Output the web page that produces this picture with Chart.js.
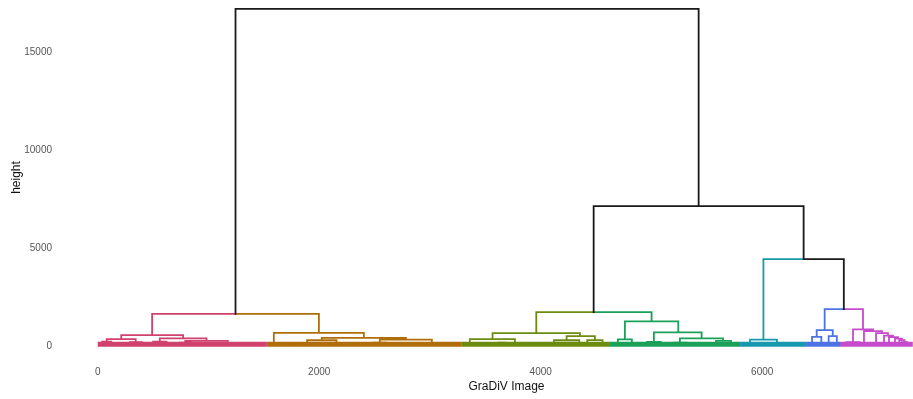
<!DOCTYPE html>
<html>
<head>
<meta charset="utf-8">
<title>GraDiV Image dendrogram</title>
<script src="https://cdn.jsdelivr.net/npm/chart.js@4/dist/chart.umd.min.js"></script>
<style>
  html, body { margin: 0; padding: 0; background: #fff; overflow: hidden; }
  /* the reference is a crop of a wider ggplot panel, so the canvas runs past the window */
  #wrap { position: absolute; left: 0; top: -8px; width: 956px; height: 407px; }
</style>
</head>
<body>
<div id="wrap"><canvas id="dendro"></canvas></div>
<script>
// Clusters along the leaf axis
const clusterNames = ['pink', 'brown', 'olive', 'green', 'cyan', 'blue', 'magenta'];
const clusterColors = ['#D0416E', '#B06E0A', '#6C8C10', '#1AA058', '#1898AC', '#4B73E3', '#C64BCB'];
const clusterStart = [0, 1527, 3288, 4625, 5800, 6396, 6703];
const clusterEnd = [1527, 3288, 4625, 5800, 6396, 6703, 7360];
const leafBandHeight = 100;

// Merges inside a cluster: [left x, right x, height, left child height, right child height]
const pinkMerges = [
  [212, 771, 561, 357, 393],
  [81, 343, 357, 230, 200],
  [560, 982, 393, 230, 270],
  [790, 1174, 270, 180, 170],
  [40, 122, 230, 100, 100],
  [290, 396, 200, 100, 100],
  [500, 620, 230, 100, 100],
  [740, 840, 180, 100, 100],
  [1110, 1238, 170, 100, 100],
  [1300, 1420, 150, 100, 100],
  [160, 240, 170, 100, 100],
  [430, 480, 160, 100, 100],
  [900, 1010, 150, 100, 100],
  [1440, 1500, 140, 100, 100]
];
const brownMerges = [
  [1590, 2403, 680, 170, 423],
  [2023, 2782, 423, 300, 330],
  [1890, 2156, 300, 150, 130],
  [2547, 3017, 330, 180, 160],
  [1540, 1640, 170, 100, 100],
  [1850, 1930, 150, 100, 100],
  [2110, 2202, 130, 100, 100],
  [2490, 2604, 180, 100, 100],
  [2960, 3074, 160, 100, 100],
  [2280, 2360, 160, 100, 100],
  [1700, 1790, 150, 100, 100],
  [2660, 2740, 150, 100, 100],
  [2840, 2920, 140, 100, 100],
  [3120, 3220, 140, 100, 100]
];
const oliveMerges = [
  [3565, 4354, 663, 357, 510],
  [3360, 3767, 357, 170, 150],
  [4234, 4489, 510, 300, 306],
  [4120, 4348, 300, 140, 120],
  [4420, 4558, 306, 120, 110],
  [3310, 3410, 170, 100, 100],
  [3700, 3834, 150, 100, 100],
  [4060, 4180, 140, 100, 100],
  [3480, 3600, 160, 100, 100],
  [3900, 3990, 140, 100, 100],
  [3620, 3680, 180, 100, 100],
  [4000, 4050, 160, 100, 100],
  [4570, 4610, 130, 100, 100]
];
const greenMerges = [
  [4760, 5242, 1260, 342, 699],
  [4697, 4823, 342, 120, 130],
  [5022, 5453, 699, 220, 393],
  [5257, 5646, 393, 180, 270],
  [5583, 5718, 270, 120, 110],
  [4960, 5084, 220, 100, 100],
  [5200, 5314, 180, 100, 100],
  [4650, 4744, 120, 100, 100],
  [5400, 5480, 160, 100, 100],
  [4870, 4930, 150, 100, 100],
  [5500, 5560, 150, 100, 100],
  [5740, 5790, 130, 100, 100]
];
const cyanMerges = [
  [5890, 6133, 330, 160, 170],
  [5840, 5940, 160, 100, 100],
  [6080, 6186, 170, 100, 100],
  [6250, 6340, 150, 100, 100],
  [5980, 6040, 140, 100, 100]
];
const blueMerges = [
  [6492, 6637, 816, 475, 510],
  [6450, 6534, 475, 150, 150],
  [6600, 6674, 510, 150, 150],
  [6420, 6480, 150, 100, 100],
  [6510, 6558, 150, 100, 100],
  [6580, 6620, 150, 100, 100],
  [6650, 6698, 150, 100, 100]
];
const magentaMerges = [
  [6820, 7001, 850, 200, 765],
  [6760, 6880, 200, 100, 100],
  [6919, 7082, 765, 150, 663],
  [6890, 6948, 150, 100, 100],
  [7028, 7136, 663, 120, 536],
  [7100, 7181, 536, 130, 459],
  [7145, 7226, 459, 120, 383],
  [7199, 7262, 383, 120, 306],
  [7238, 7286, 306, 110, 200],
  [7262, 7310, 200, 100, 100]
];

// Merges joining clusters: [left x, right x, height, left child h, right child h, left colour, right colour]
const upperMerges = [
  [1244, 5426, 17200, 1650, 7140, 'black', 'black'],
  [491, 1997, 1650, 561, 680, 'pink', 'brown'],
  [4478, 6374, 7140, 1735, 4439, 'black', 'black'],
  [3960, 5001, 1735, 663, 1260, 'olive', 'green'],
  [6011, 6737, 4439, 330, 1888, 'cyan', 'black'],
  [6564, 6910, 1888, 816, 850, 'blue', 'magenta']
];

const xTicks = [0, 2000, 4000, 6000];
const yTicks = [0, 5000, 10000, 15000];

const clusterMerges = [pinkMerges, brownMerges, oliveMerges, greenMerges, cyanMerges, blueMerges, magentaMerges];
const lineColor = { black: '#1a1a1a' };
clusterNames.forEach((n, i) => { lineColor[n] = clusterColors[i]; });

// one list of points per colour, paths split by null y
const paths = {};
Object.keys(lineColor).forEach(k => { paths[k] = []; });
function addPath(key, pts) {
  pts.forEach(p => paths[key].push({ x: p[0], y: p[1] }));
  paths[key].push({ x: pts[pts.length - 1][0], y: null });
}

clusterMerges.forEach((merges, i) => {
  merges.forEach(m => {
    addPath(clusterNames[i], [[m[0], m[3]], [m[0], m[2]], [m[1], m[2]], [m[1], m[4]]]);
  });
});
upperMerges.forEach(m => {
  const mid = (m[0] + m[1]) / 2;
  addPath(m[5], [[m[0], m[3]], [m[0], m[2]], [mid, m[2]]]);
  addPath(m[6], [[mid, m[2]], [m[1], m[2]], [m[1], m[4]]]);
});

const lineDefaults = {
  pointRadius: 0,
  borderWidth: 1.8,
  tension: 0,
  fill: false,
  spanGaps: false,
  borderCapStyle: 'square',
  borderJoinStyle: 'miter'
};

const datasets = [];
datasets.push(Object.assign({ label: 'black', data: paths.black, borderColor: lineColor.black }, lineDefaults));
clusterNames.forEach(n => {
  datasets.push(Object.assign({ label: n, data: paths[n], borderColor: lineColor[n] }, lineDefaults));
});
// dense leaf band at the bottom of every cluster
clusterNames.forEach((n, i) => {
  datasets.push(Object.assign({}, lineDefaults, {
    label: n + ' leaves',
    data: [{ x: clusterStart[i], y: leafBandHeight }, { x: clusterEnd[i], y: leafBandHeight }],
    borderColor: clusterColors[i],
    borderWidth: 5,
    borderCapStyle: 'butt'
  }));
});

new Chart(document.getElementById('dendro'), {
  type: 'line',
  data: { datasets: datasets },
  options: {
    responsive: true,
    maintainAspectRatio: false,
    animation: false,
    events: [],
    layout: { padding: 0 },
    plugins: {
      legend: { display: false },
      tooltip: { enabled: false }
    },
    scales: {
      x: {
        type: 'linear',
        min: -368,
        max: 7750,
        grid: { display: false, drawTicks: false },
        border: { display: false },
        afterBuildTicks: scale => { scale.ticks = xTicks.map(v => ({ value: v })); },
        afterFit: scale => {
          scale.height = 36;
          scale.paddingLeft = 0;
          scale.paddingRight = 0;
        },
        ticks: {
          padding: 3,
          color: '#555',
          font: { family: 'Liberation Sans, Arial, sans-serif', size: 10 },
          maxRotation: 0,
          callback: v => String(v)
        },
        title: {
          display: true,
          text: 'GraDiV Image',
          color: '#111',
          font: { family: 'Liberation Sans, Arial, sans-serif', size: 12 },
          padding: { top: 0, bottom: 5 }
        }
      },
      y: {
        type: 'linear',
        min: -860,
        max: 18060,
        grid: { display: false, drawTicks: false },
        border: { display: false },
        afterBuildTicks: scale => { scale.ticks = yTicks.map(v => ({ value: v })); },
        afterFit: scale => {
          scale.width = 57;
          scale.paddingTop = 0;
          scale.paddingBottom = 0;
        },
        ticks: {
          padding: 5,
          color: '#555',
          font: { family: 'Liberation Sans, Arial, sans-serif', size: 10 },
          callback: v => String(v)
        },
        title: {
          display: true,
          text: 'height',
          color: '#111',
          font: { family: 'Liberation Sans, Arial, sans-serif', size: 12 },
          padding: { top: 9, bottom: 0 }
        }
      }
    }
  }
});
</script>
</body>
</html>
